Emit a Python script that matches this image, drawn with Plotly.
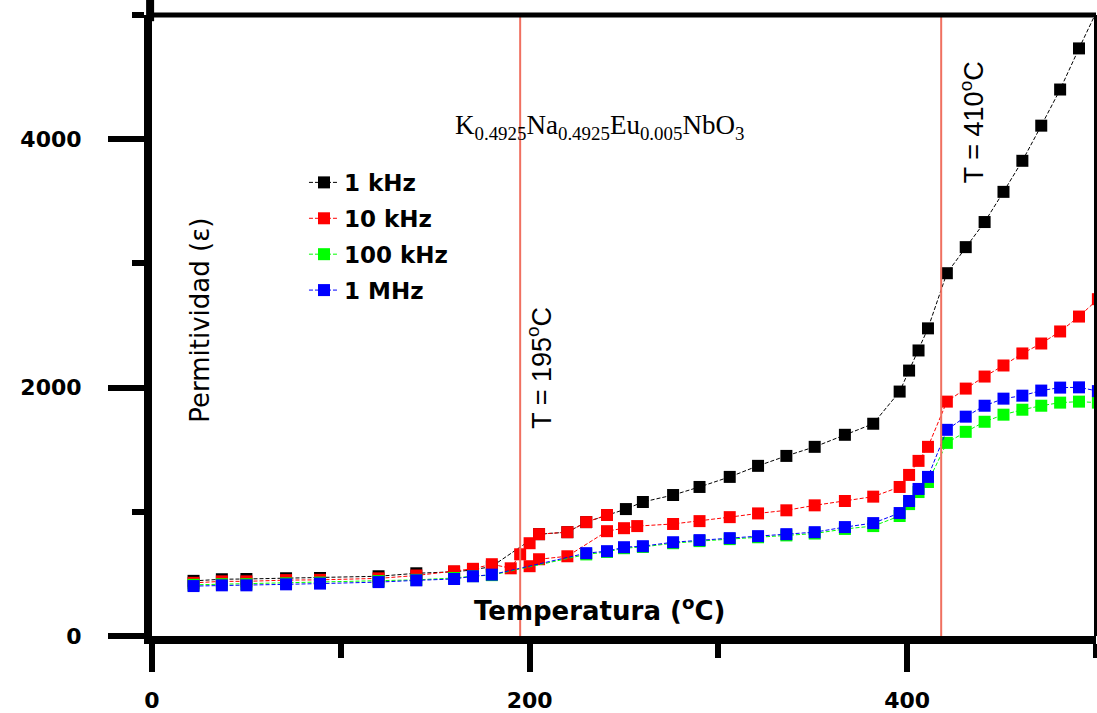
import plotly.graph_objects as go

# ---------------- data ----------------
T_1k = [22, 37, 50, 71, 89, 120, 140, 160, 170, 180, 205, 220, 230, 241,
        251, 260, 276, 290, 306, 321, 336, 351, 367, 382, 396, 401, 406, 411,
        421, 431, 441, 451, 461, 471, 481, 491, 501]
E_1k = [444, 457, 459, 465, 467, 481, 505, 517, 532, 560, 820, 836, 917, 974,
        1022, 1079, 1135, 1200, 1281, 1370, 1450, 1523, 1620, 1709, 1968, 2137, 2299, 2477,
        2921, 3131, 3333, 3576, 3826, 4109, 4400, 4731, 5050]

T_10k_a = [22, 37, 50, 71, 89, 120, 140, 160, 170, 180, 190, 195, 200, 205, 220, 230, 241]
E_10k_a = [428, 440, 440, 450, 452, 464, 487, 521, 541, 578, 545, 658, 747, 820, 836, 917, 974]

T_10k_b = [200, 205, 220, 241, 250, 257, 276, 290, 306, 321, 336, 351, 367, 382,
           396, 401, 406, 411, 421, 431, 441, 451, 461, 471, 481, 491, 501]
E_10k_b = [562, 618, 642, 844, 868, 885, 902, 925, 957, 987, 1012, 1052, 1087, 1122,
           1200, 1297, 1410, 1523, 1887, 1992, 2089, 2178, 2275, 2355, 2452, 2572, 2712]

T_100k = [22, 37, 50, 71, 89, 120, 140, 160, 170, 180, 230, 241, 250, 260, 276, 290,
          306, 321, 336, 351, 367, 382, 396, 401, 406, 411, 421, 431, 441, 451, 461,
          471, 481, 491, 501]
E_100k = [412, 417, 417, 424, 430, 442, 452, 467, 482, 490, 657, 677, 707, 717, 747, 764,
          780, 795, 810, 825, 862, 885, 966, 1062, 1159, 1240, 1555, 1644, 1725, 1782, 1822,
          1854, 1879, 1887, 1879]

T_1M = [22, 37, 50, 71, 89, 120, 140, 160, 170, 180, 230, 241, 250, 260, 276, 290,
        306, 321, 336, 351, 367, 382, 396, 401, 406, 411, 421, 431, 441, 451, 461,
        471, 481, 491, 501]
E_1M = [402, 408, 408, 416, 422, 434, 448, 459, 481, 494, 667, 683, 715, 723, 755, 772,
        788, 804, 820, 836, 877, 909, 990, 1087, 1184, 1281, 1660, 1766, 1854, 1911, 1935,
        1976, 2000, 2002, 1972]

x_ticks = [0, 200, 400]
x_minor = [100, 300, 500]
y_ticks = [0, 2000, 4000]
y_minor = [1000, 3000, 5000]
T_lines = [195, 418]

series = [
    ("1 kHz", T_1k, E_1k, "#000000"),
    ("10 kHz", T_10k_a, E_10k_a, "#ff0000"),
    ("100 kHz", T_100k, E_100k, "#00ff00"),
    ("1 MHz", T_1M, E_1M, "#0000ff"),
]

fig = go.Figure()
for name, xs, ys, col in series:
    fig.add_trace(go.Scatter(
        x=xs, y=ys, name=name, mode="lines+markers",
        line=dict(color=col, width=1, dash="4px,2px"),
        marker=dict(symbol="square", size=12, color=col, line=dict(width=0)),
        legendgroup=name,
    ))
    if name == "10 kHz":
        fig.add_trace(go.Scatter(
            x=T_10k_b, y=E_10k_b, name=name, mode="lines+markers",
            line=dict(color=col, width=1, dash="4px,2px"),
            marker=dict(symbol="square", size=12, color=col, line=dict(width=0)),
            legendgroup=name, showlegend=False,
        ))

for xv in T_lines:
    fig.add_shape(type="line", x0=xv, x1=xv, y0=0, y1=1, xref="x", yref="paper",
                  line=dict(color="#f07060", width=2), layer="above")

# frame: thin top/right border, left axis running up to the top edge
fig.add_shape(type="line", x0=0, x1=1, y0=1, y1=1, xref="paper", yref="paper",
              line=dict(color="black", width=5))
fig.add_shape(type="line", x0=1, x1=1, y0=0, y1=1, xref="paper", yref="paper",
              line=dict(color="black", width=4))
fig.add_shape(type="line", x0=-0.002, x1=-0.002, y0=0.99, y1=1.03, xref="paper", yref="paper",
              line=dict(color="black", width=8))

bold = dict(family="DejaVu Sans", size=22, color="black", weight="bold")

fig.add_annotation(x=237, y=215, xref="x", yref="y", text="Temperatura (<sup>o</sup>C)",
                   showarrow=False, font=dict(family="DejaVu Sans", size=26, color="black", weight="bold"))
fig.add_annotation(x=25, y=2540, xref="x", yref="y", text="Permitividad (ε)", textangle=-90,
                   showarrow=False, font=dict(family="DejaVu Sans", size=26, color="black"))
fig.add_annotation(x=237, y=4100, xref="x", yref="y",
                   text="K<sub>0.4925</sub>Na<sub>0.4925</sub>Eu<sub>0.005</sub>NbO<sub>3</sub>",
                   showarrow=False, font=dict(family="Liberation Serif", size=27, color="black"))
fig.add_annotation(x=205, y=2160, xref="x", yref="y", text="T = 195<sup>o</sup>C", textangle=-90,
                   showarrow=False, font=dict(family="Liberation Sans", size=27, color="black"))
fig.add_annotation(x=434, y=4140, xref="x", yref="y", text="T = 410<sup>o</sup>C", textangle=-90,
                   showarrow=False, font=dict(family="Liberation Sans", size=27, color="black"))

fig.update_layout(
    width=1097, height=713,
    margin=dict(l=152, r=1, t=15, b=77),
    plot_bgcolor="white", paper_bgcolor="white",
    legend=dict(x=0.161, y=0.765, xanchor="left", yanchor="top",
                font=dict(family="DejaVu Sans", size=23, color="black", weight="bold"),
                bgcolor="rgba(0,0,0,0)", tracegroupgap=3),
    xaxis=dict(range=[0, 500], tickmode="array", tickvals=x_ticks,
               ticktext=[str(v) for v in x_ticks],
               ticks="outside", ticklen=28, tickwidth=6, tickcolor="black",
               showline=True, linewidth=8, linecolor="black",
               showgrid=False, zeroline=False, tickfont=bold, ticklabelstandoff=10,
               minor=dict(tickvals=x_minor, ticks="outside", ticklen=14,
                          tickwidth=6, tickcolor="black")),
    yaxis=dict(range=[0, 5000], tickmode="array", tickvals=y_ticks,
               ticktext=[str(v) for v in y_ticks],
               ticks="outside", ticklen=36, tickwidth=6, tickcolor="black",
               showline=True, linewidth=8, linecolor="black",
               showgrid=False, zeroline=False, tickfont=bold, ticklabelstandoff=22,
               minor=dict(tickvals=y_minor, ticks="outside", ticklen=12,
                          tickwidth=6, tickcolor="black")),
)

fig.write_html("out.html")
